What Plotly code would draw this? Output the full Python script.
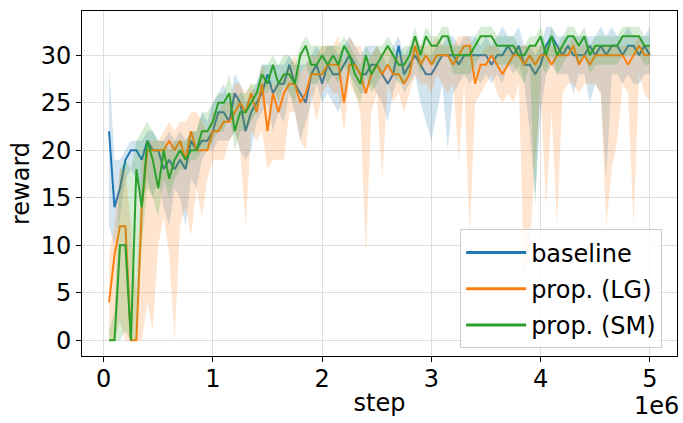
import plotly.graph_objects as go

# Training steps: every 50k steps up to 5M
steps = [i * 50000 for i in range(1, 101)]

# --- baseline ---
baseline_mean = [22, 14, 16, 19, 20, 20, 19, 21, 20, 20,
                 18, 19, 18, 19, 18, 21, 20, 21, 21, 22,
                 24, 24, 23, 26, 25, 22, 24, 25, 26, 28,
                 26, 27, 27, 29, 27, 26, 25, 28, 29, 27,
                 29, 28, 28, 29, 30, 29, 28, 28, 29, 29,
                 28, 27, 28, 31, 28, 29, 30, 29, 28, 28,
                 29, 30, 30, 30, 29, 30, 30, 30, 30, 30,
                 29, 30, 30, 31, 30, 31, 29, 29, 28, 29,
                 31, 32, 31, 30, 31, 30, 30, 30, 31, 30,
                 31, 30, 31, 31, 30, 31, 31, 30, 31, 30]
baseline_low = [12, 10, 13, 17, 18, 17, 14, 17, 15, 17,
                14, 12, 16, 15, 12, 17, 16, 19, 20, 20,
                21, 21, 21, 22, 20, 19, 20, 23, 24, 25,
                22, 24, 23, 26, 24, 21, 23, 25, 27, 25,
                26, 25, 24, 26, 28, 27, 26, 26, 27, 26,
                25, 23, 26, 28, 26, 27, 28, 25, 23, 21,
                24, 27, 20, 26, 27, 28, 27, 28, 27, 28,
                27, 28, 27, 29, 28, 29, 27, 22, 15, 24,
                28, 29, 28, 28, 28, 26, 28, 28, 25, 27,
                26, 17, 28, 28, 27, 28, 27, 27, 28, 28]
baseline_high = [29, 19, 19, 20, 21, 21, 21, 22, 22, 21,
                 21, 22, 21, 22, 21, 22, 22, 24, 23, 25,
                 26, 27, 25, 28, 27, 25, 26, 27, 29, 29,
                 29, 29, 29, 30, 29, 29, 29, 30, 31, 30,
                 31, 31, 30, 31, 32, 31, 30, 31, 31, 31,
                 30, 29, 31, 32, 30, 31, 31, 31, 30, 30,
                 31, 31, 32, 32, 31, 32, 32, 32, 31, 32,
                 31, 32, 33, 32, 32, 33, 31, 31, 30, 31,
                 33, 33, 32, 32, 32, 32, 32, 32, 32, 32,
                 33, 32, 33, 32, 32, 33, 32, 32, 32, 33]

# --- prop. (LG) ---
lg_mean = [4, 9, 12, 12, 0, 0, 14, 20, 20, 20,
           20, 21, 20, 21, 19, 22, 20, 20, 20, 22,
           22, 23, 23, 24, 25, 24, 26, 24, 27, 22,
           26, 24, 26, 27, 27, 25, 26, 28, 28, 28,
           29, 29, 29, 25, 29, 29, 28, 26, 28, 29,
           28, 29, 28, 28, 27, 28, 31, 29, 30, 29,
           30, 30, 30, 29, 30, 31, 31, 27, 29, 29,
           30, 29, 28, 29, 30, 30, 29, 30, 29, 30,
           30, 29, 30, 30, 30, 31, 29, 30, 29, 30,
           30, 30, 30, 30, 30, 29, 30, 31, 30, 30]
lg_low = [0, 0, 2, 0, 0, 0, 0, 4, 1, 10,
          13, 9, 0, 12, 14, 11, 16, 13, 17, 19,
          19, 19, 21, 22, 20, 12, 22, 21, 22, 18,
          19, 19, 19, 24, 24, 21, 20, 26, 23, 26,
          27, 26, 26, 22, 27, 26, 24, 9, 24, 26,
          17, 27, 25, 26, 24, 26, 28, 27, 27, 26,
          28, 27, 26, 27, 19, 27, 11, 25, 26, 27,
          28, 26, 25, 26, 25, 27, 6, 10, 19, 26,
          14, 24, 12, 26, 27, 27, 26, 27, 27, 27,
          26, 12, 18, 21, 27, 26, 12, 28, 26, 25]
lg_high = [9, 12, 18, 18, 12, 5, 19, 21, 21, 21,
           22, 23, 22, 23, 23, 24, 24, 23, 22, 24,
           24, 25, 25, 27, 27, 26, 27, 26, 29, 27,
           27, 27, 28, 29, 30, 28, 29, 30, 30, 31,
           31, 31, 32, 29, 32, 31, 31, 29, 30, 31,
           30, 31, 30, 30, 30, 30, 32, 31, 31, 31,
           32, 31, 31, 31, 32, 32, 32, 30, 30, 31,
           31, 31, 30, 31, 31, 31, 31, 31, 31, 31,
           31, 31, 31, 31, 31, 32, 31, 31, 31, 31,
           31, 31, 31, 31, 31, 31, 31, 32, 31, 31]

# --- prop. (SM) ---
sm_mean = [0, 0, 10, 10, 0, 18, 14, 21, 19, 16,
           20, 17, 19, 20, 19, 20, 20, 22, 22, 23,
           25, 25, 26, 22, 24, 24, 25, 26, 28, 27,
           29, 27, 28, 28, 27, 30, 31, 29, 29, 30,
           29, 30, 29, 31, 30, 28, 27, 30, 28, 29,
           30, 31, 30, 29, 29, 30, 32, 30, 32, 31,
           31, 32, 32, 30, 30, 30, 30, 31, 32, 32,
           32, 31, 31, 31, 31, 30, 30, 31, 31, 32,
           30, 32, 30, 31, 32, 32, 31, 32, 30, 31,
           31, 31, 31, 31, 32, 32, 32, 32, 31, 31]
sm_low = [0, 0, 0, 1, 0, 0, 10, 16, 15, 13,
          17, 15, 17, 18, 18, 19, 19, 20, 20, 21,
          22, 22, 24, 20, 22, 22, 23, 24, 26, 26,
          27, 25, 27, 26, 25, 28, 29, 27, 27, 28,
          27, 28, 27, 29, 28, 26, 25, 28, 26, 27,
          28, 29, 28, 27, 27, 28, 30, 28, 30, 29,
          29, 30, 30, 28, 28, 28, 28, 29, 30, 30,
          30, 29, 29, 29, 29, 28, 27, 29, 14, 29,
          28, 30, 28, 29, 30, 30, 29, 30, 28, 29,
          29, 29, 29, 29, 30, 30, 30, 30, 29, 29]
sm_high = [1, 3, 18, 19, 18, 21, 22, 23, 22, 21,
           21, 20, 21, 21, 21, 22, 22, 24, 24, 25,
           26, 26, 28, 25, 26, 26, 27, 27, 29, 29,
           30, 29, 30, 30, 29, 31, 32, 31, 31, 31,
           31, 31, 31, 32, 31, 30, 29, 31, 30, 31,
           31, 32, 31, 30, 31, 31, 33, 31, 33, 32,
           32, 33, 33, 31, 31, 31, 31, 32, 33, 33,
           33, 32, 32, 32, 32, 31, 31, 32, 32, 33,
           31, 33, 31, 32, 33, 33, 32, 33, 31, 32,
           32, 32, 32, 32, 33, 33, 33, 33, 32, 32]

series = [
    ("baseline", baseline_mean, baseline_low, baseline_high, "#1f77b4", "rgba(31,119,180,0.2)"),
    ("prop. (LG)", lg_mean, lg_low, lg_high, "#ff7f0e", "rgba(255,127,14,0.2)"),
    ("prop. (SM)", sm_mean, sm_low, sm_high, "#2ca02c", "rgba(44,160,44,0.2)"),
]

FONT = "DejaVu Sans"
FS = 24
fig = go.Figure()

for name, mean, low, high, color, fill in series:
    fig.add_trace(go.Scatter(
        x=steps + steps[::-1], y=high + low[::-1],
        fill="toself", fillcolor=fill, line=dict(width=0),
        mode="lines", showlegend=False, hoverinfo="skip",
    ))
    fig.add_trace(go.Scatter(
        x=steps, y=mean, mode="lines", name=name, showlegend=False,
        line=dict(color=color, width=2),
    ))

# legend entries drawn with a heavier stroke, one group each for spacing
for name, _, _, _, color, _ in series:
    fig.add_trace(go.Scatter(
        x=[None], y=[None], mode="lines", name=name, legendgroup=name,
        line=dict(color=color, width=3),
    ))

axis_common = dict(
    showline=True, linecolor="black", linewidth=1, mirror=True,
    ticks="outside", ticklen=5, tickwidth=1, tickcolor="black",
    showgrid=True, gridcolor="#dedede", gridwidth=1,
    zeroline=False, tickfont=dict(family=FONT, size=FS, color="black"),
)

fig.update_xaxes(
    range=[-0.1975e6, 5.2475e6],
    tickvals=[0, 1e6, 2e6, 3e6, 4e6, 5e6],
    ticktext=["0", "1", "2", "3", "4", "5"],
    ticklabelstandoff=-4,
    title=dict(text="step", font=dict(family=FONT, size=FS, color="black"), standoff=2),
    **axis_common,
)
fig.update_yaxes(
    range=[-1.65, 34.65],
    tickvals=[0, 5, 10, 15, 20, 25, 30],
    title=dict(text="reward", font=dict(family=FONT, size=FS, color="black"), standoff=4),
    **axis_common,
)

fig.add_annotation(
    text="1e6", xref="paper", yref="paper", x=1.006, y=-0.098,
    xanchor="right", yanchor="top", showarrow=False,
    font=dict(family=FONT, size=FS, color="black"),
)

fig.update_layout(
    width=683, height=423,
    margin=dict(l=82, r=6, t=11, b=67),
    paper_bgcolor="white", plot_bgcolor="white",
    font=dict(family=FONT, size=FS, color="black"),
    legend=dict(
        x=0.975, y=0.022, xanchor="right", yanchor="bottom",
        bgcolor="rgba(255,255,255,0.8)", bordercolor="#cccccc", borderwidth=1,
        font=dict(family=FONT, size=FS, color="black"),
        tracegroupgap=2, itemwidth=60,
    ),
)

fig.write_html("out.html")
